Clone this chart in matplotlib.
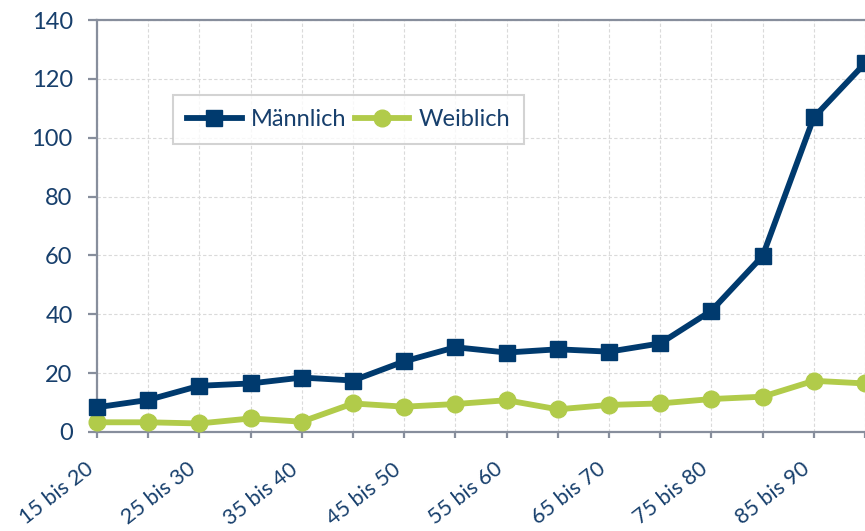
import matplotlib
matplotlib.use("Agg")
import matplotlib.pyplot as plt

# Altersgruppen
categories = ['15 bis 20', '20 bis 25', '25 bis 30', '30 bis 35', '35 bis 40',
              '40 bis 45', '45 bis 50', '50 bis 55', '55 bis 60', '60 bis 65',
              '65 bis 70', '70 bis 75', '75 bis 80', '80 bis 85', '85 bis 90',
              '90 und mehr']
maennlich = [8.4, 10.9, 15.7, 16.5, 18.5, 17.5, 24.0, 28.8, 27.0, 28.1,
             27.3, 30.1, 41.2, 59.8, 106.9, 125.3]
weiblich = [3.3, 3.3, 2.9, 4.6, 3.5, 9.7, 8.6, 9.5, 10.8, 7.7,
            9.2, 9.7, 11.2, 12.0, 17.4, 16.5]

navy = '#003A6E'
green = '#B1CB4A'
text_col = '#173F6C'
axis_col = '#878E9C'

plt.rcParams['font.family'] = ['Lato', 'DejaVu Sans']

fig = plt.figure(figsize=(8.65, 5.31), dpi=100)
ax = fig.add_axes([97/865, 99/531, 1 - 97/865, 412/531])

x = list(range(len(categories)))
ax.plot(x, maennlich, color=navy, lw=4.2, marker='s', ms=11.5,
        label='Männlich', clip_on=False, zorder=4)
ax.plot(x, weiblich, color=green, lw=4.2, marker='o', ms=12,
        label='Weiblich', clip_on=False, zorder=3)

ax.set_xlim(0, 15)
ax.set_ylim(0, 140)
ax.set_yticks(range(0, 141, 20))
ax.set_xticks(x)
ax.set_xticklabels([c if i % 2 == 0 else '' for i, c in enumerate(categories)],
                   rotation=38, ha='right')

ax.grid(True, color='#DADADA', ls=(0, (3, 2)), lw=0.8)
ax.set_axisbelow(True)

for s in ['left', 'bottom', 'top']:
    ax.spines[s].set_color(axis_col)
    ax.spines[s].set_linewidth(1.6)
ax.spines['right'].set_visible(False)

ax.tick_params(axis='y', colors=axis_col, labelcolor=text_col, labelsize=17,
               length=6.5, width=1.6, pad=11)
ax.tick_params(axis='x', colors=axis_col, labelcolor=text_col, labelsize=15.5,
               length=4.5, width=1.6, pad=15)

leg = ax.legend(loc='upper left', bbox_to_anchor=(0.099, 0.818), ncol=2,
                fontsize=17, frameon=True, fancybox=False, handlelength=2.3,
                columnspacing=0.35, handletextpad=0.4, borderpad=0.6,
                borderaxespad=0)
leg.get_frame().set_edgecolor('#C8C8C8')
leg.get_frame().set_linewidth(1.5)
for t in leg.get_texts():
    t.set_color(text_col)

fig.savefig('out.png', dpi=100)
